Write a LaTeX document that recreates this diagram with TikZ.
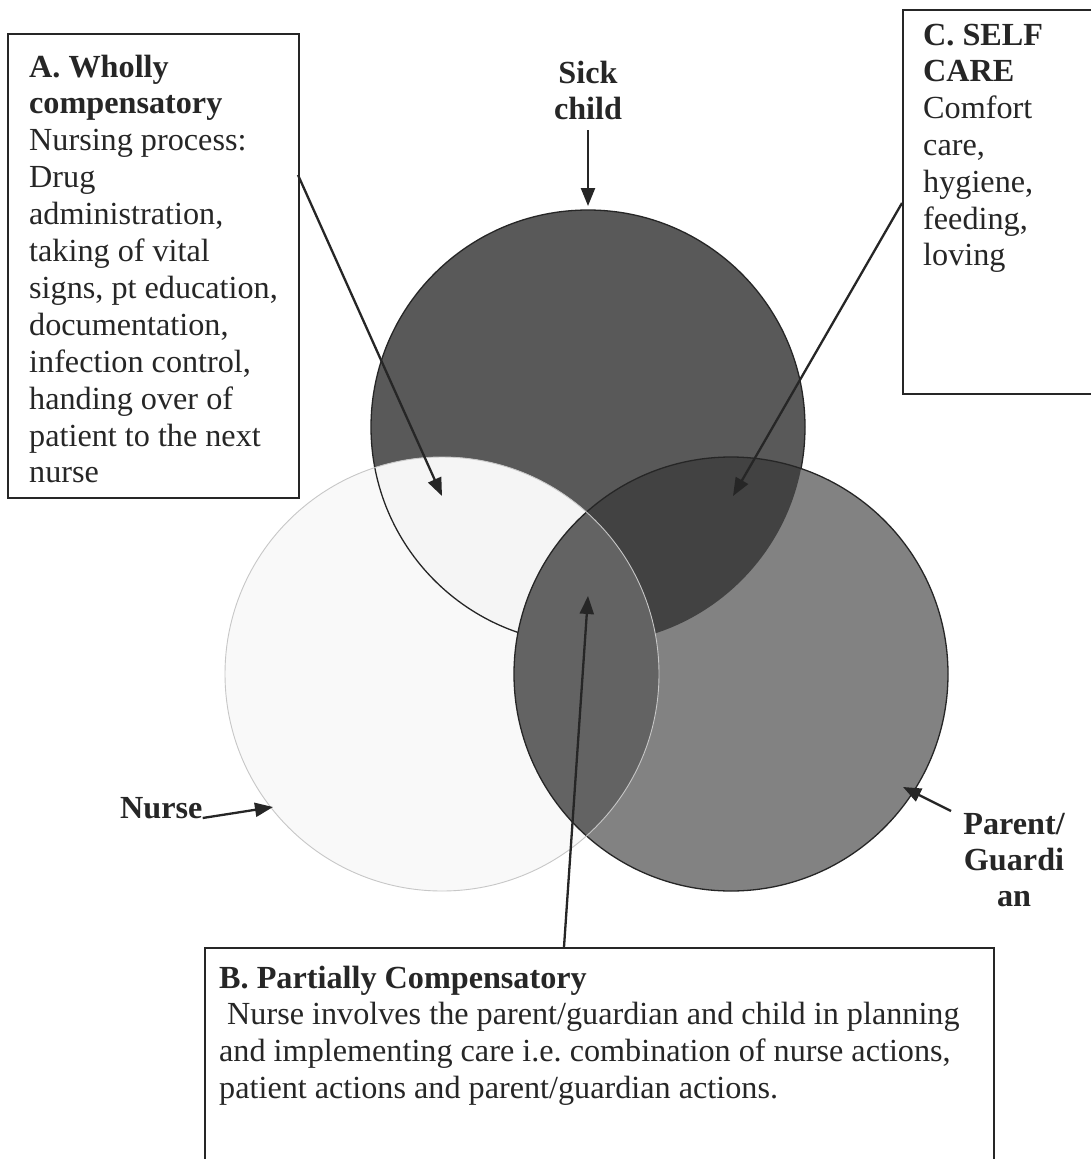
\documentclass[tikz,border=0pt]{standalone}
\usepackage{fontspec}
\setmainfont{Liberation Serif}
\usetikzlibrary{arrows.meta}
\frenchspacing
\definecolor{ink}{gray}{0.15}
\definecolor{sickc}{gray}{0.35}
\definecolor{sickpar}{gray}{0.26}
\definecolor{parc}{gray}{0.51}
\definecolor{nurpar}{gray}{0.39}
\definecolor{nurc}{gray}{0.975}
\definecolor{nursick}{gray}{0.96}
\definecolor{nurline}{gray}{0.78}
\newcommand\leftstack[1]{\vtop{\halign{##\hfil\cr#1\crcr}}}
\newcommand\midstack[1]{\vtop{\halign{\hfil##\hfil\cr#1\crcr}}}
\tikzset{
  boxframe/.style={draw=ink, line width=2pt, inner sep=0pt, anchor=north west},
  conn/.style={draw=ink, line width=2.3pt, -{Triangle[length=18pt,width=14pt]}},
  txt/.style={text=ink, inner sep=0pt, font=\fontsize{32.2}{36.9}\selectfont},
  btxt/.style={txt, font=\fontsize{32.2}{36.9}\selectfont\bfseries},
  circline/.style={draw=ink, line width=1.3pt},
}
\begin{document}
\begin{tikzpicture}[x=1pt,y=-1pt]
\fill[white] (0,0) rectangle (1090,1159);
\useasboundingbox (0,0) rectangle (1090,1159);

% circle centres
\coordinate (cs) at (588,427);
\coordinate (cn) at (442,674);
\coordinate (cp) at (731,674);

% sick child circle
\fill[sickc] (cs) circle (217pt);
% nurse circle
\fill[nurc] (cn) circle (217pt);
\begin{scope}
  \clip (cs) circle (217pt);
  \fill[nursick] (cn) circle (217pt);
\end{scope}
\draw[circline] (cs) circle (217pt);
% parent circle
\fill[parc] (cp) circle (217pt);
\begin{scope}
  \clip (cp) circle (217pt);
  \fill[sickpar] (cs) circle (217pt);
  \fill[nurpar] (cn) circle (217pt);
\end{scope}
\draw[circline] (cp) circle (217pt);
\draw[draw=nurline, line width=0.9pt] (cn) circle (217pt);

% boxes
\node[boxframe, minimum width=291pt, minimum height=464pt] (boxA) at (7,33) {};
\node[boxframe, minimum width=200pt, minimum height=384pt] (boxC) at (902,9) {};
\node[boxframe, minimum width=789pt, minimum height=240pt] (boxB) at (204,947) {};

% box texts
\node[txt, anchor=base west] (textA) at (29,77) {\leftstack{%
  {\bfseries A. Wholly}\cr
  {\bfseries compensatory}\cr
  Nursing process:\cr
  Drug\cr
  administration,\cr
  taking of vital\cr
  signs, pt education,\cr
  documentation,\cr
  infection control,\cr
  handing over of\cr
  patient to the next\cr
  nurse}};
\node[txt, anchor=base west, font=\fontsize{32.2}{36.8}\selectfont] (textC) at (923,45) {\leftstack{%
  {\bfseries C. SELF}\cr
  {\bfseries CARE}\cr
  Comfort\cr
  care,\cr
  hygiene,\cr
  feeding,\cr
  loving}};
\node[txt, anchor=base west] (textB) at (219,988) {\leftstack{%
  {\bfseries B. Partially Compensatory}\cr
  \hskip8pt Nurse involves the parent/guardian and child in planning\cr
  and implementing care i.e. combination of nurse actions,\cr
  patient actions and parent/guardian actions.}};

% circle labels
\node[btxt, anchor=base] (sicklbl) at (588,83) {\midstack{Sick\cr child}};
\node[btxt, anchor=base west] (nurselbl) at (120,818) {Nurse};
\node[btxt, anchor=base, font=\fontsize{32.2}{36}\selectfont\bfseries] (parentlbl) at (1014,834) {\midstack{Parent/\cr Guardi\cr an}};

% connector ends
\coordinate (tipS) at (588,206);
\coordinate (tipA) at (442,496);
\coordinate (tipC) at (733,496);
\coordinate (tipB) at (588,596);
\coordinate (tipN) at (273,807);
\coordinate (tipP) at (903,787);
\coordinate (fromS) at (588,130);
\coordinate (fromA) at (298,175);
\coordinate (fromC) at (902,203);
\coordinate (fromB) at (564,947);
\coordinate (fromP) at (951,811);

\draw[conn] (fromS) -- (tipS);
\draw[conn] (fromA) -- (tipA);
\draw[conn] (fromC) -- (tipC);
\draw[conn] (fromB) -- (tipB);
\draw[conn] (nurselbl.base east) -- (tipN);
\draw[conn] (fromP) -- (tipP);
\end{tikzpicture}
\end{document}
